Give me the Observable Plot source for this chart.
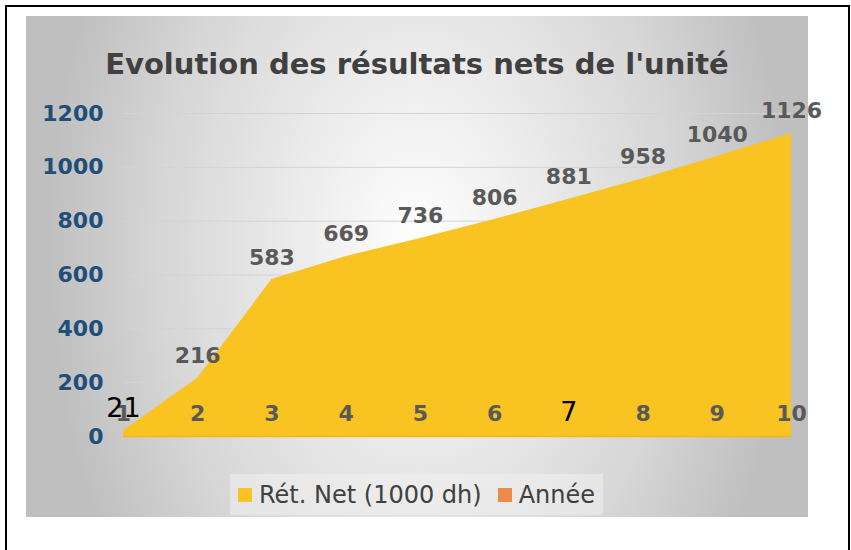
<!DOCTYPE html>
<html>
<head>
<meta charset="utf-8">
<script src="https://cdn.jsdelivr.net/npm/d3@7"></script>
<script src="https://cdn.jsdelivr.net/npm/@observablehq/plot@0.6"></script>
<style>
  html, body { margin: 0; padding: 0; background: #ffffff; }
  body { width: 851px; height: 550px; position: relative; overflow: hidden; font-family: "DejaVu Sans", sans-serif; }
  #frame { position: absolute; left: 5px; top: 5px; width: 845px; height: 570px; border: 2px solid #000; box-sizing: border-box; }
  #panel { position: absolute; left: 26px; top: 16px; width: 782px; height: 501px;
    background: radial-gradient(ellipse 370px 560px at 392px 230px, #ffffff 0%, #f2f2f2 22%, #d6d6d6 70%, #bfbfbf 100%); }
  #title { position: absolute; left: 0; top: 34px; width: 782px; text-align: center; font: bold 29px/29px "DejaVu Sans", sans-serif; color: #404040; white-space: nowrap; }
  #chart { position: absolute; left: 0; top: 0; }
  #legend { position: absolute; left: 204px; top: 458px; width: 373px; height: 41px; background: rgba(240,240,240,0.55);
    display: flex; align-items: center; box-sizing: border-box; padding-left: 8px; font: 24px "DejaVu Sans", sans-serif; color: #404040; white-space: nowrap; }
  .sw { width: 14px; height: 14px; display: inline-block; }
</style>
</head>
<body>
<div id="frame"></div>
<div id="panel">
  <div id="chart"></div>
  <div id="title"></div>
  <div id="legend"></div>
</div>
<script>
const titleText = "Evolution des résultats nets de l'unité";
const years = [1, 2, 3, 4, 5, 6, 7, 8, 9, 10];
const netResults = [21, 216, 583, 669, 736, 806, 881, 958, 1040, 1126];
const yTicks = [0, 200, 400, 600, 800, 1000, 1200];
const seriesNames = ["Rét. Net (1000 dh)", "Année"];
const seriesColors = ["#f9c322", "#ec8b48"];
const plainYearLabels = [7];
const plainValueLabels = [1];

const data = years.map((year, i) => ({year, value: netResults[i]}));

document.getElementById("title").textContent = titleText;

const chart = Plot.plot({
  width: 782,
  height: 501,
  marginLeft: 97,
  marginRight: 17,
  marginTop: 97,
  marginBottom: 81,
  x: {type: "linear", domain: [1, 10], axis: null},
  y: {domain: [0, 1200], axis: null},
  style: {background: "transparent", fontFamily: "DejaVu Sans", overflow: "visible"},
  marks: [
    Plot.gridY(yTicks, {stroke: "#d3d3d3", strokeOpacity: 1, strokeWidth: 1}),
    Plot.axisY(yTicks, {tickSize: 0, tickPadding: 20, fontSize: 22, fontWeight: "bold", fill: "#1f4e79", label: null, tickFormat: d => String(d)}),
    Plot.areaY(data, {x: "year", y: "value", fill: seriesColors[0]}),
    Plot.ruleY([0], {stroke: "#f3b70f", strokeWidth: 1.5}),
    Plot.text(data, {filter: d => !plainYearLabels.includes(d.year), x: "year", y: 0, text: d => String(d.year), dy: -23, fontSize: 22, fontWeight: "bold", fill: "#595959"}),
    Plot.text(data, {filter: d => plainYearLabels.includes(d.year), x: "year", y: 0, text: d => String(d.year), dy: -24, fontSize: 27, fill: "#000000"}),
    Plot.text(data, {filter: d => !plainValueLabels.includes(d.year), x: "year", y: "value", text: d => String(d.value), dy: -22, fontSize: 22, fontWeight: "bold", fill: "#595959"}),
    Plot.text(data, {filter: d => plainValueLabels.includes(d.year), x: "year", y: "value", text: d => String(d.value), dy: -22, fontSize: 27, fill: "#000000"})
  ]
});
document.getElementById("chart").appendChild(chart);

const legend = document.getElementById("legend");
seriesNames.forEach((name, i) => {
  const sw = document.createElement("span");
  sw.className = "sw";
  sw.style.background = seriesColors[i];
  sw.style.marginRight = "7px";
  if (i > 0) sw.style.marginLeft = "16px";
  legend.appendChild(sw);
  const t = document.createElement("span");
  t.textContent = name;
  legend.appendChild(t);
});
</script>
</body>
</html>
